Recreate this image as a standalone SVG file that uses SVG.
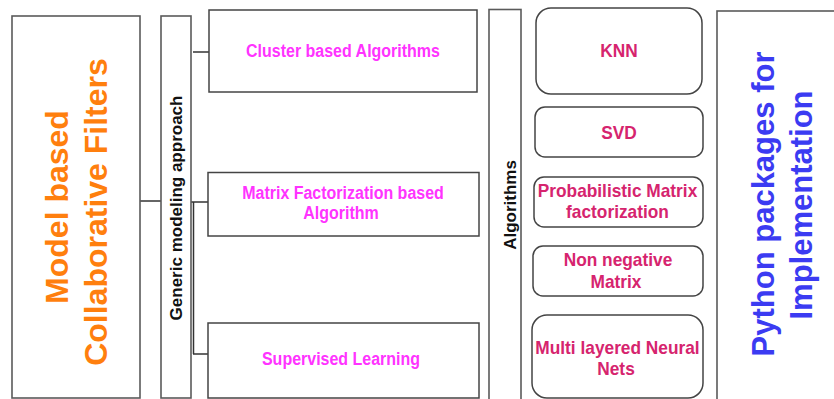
<svg xmlns="http://www.w3.org/2000/svg" width="834" height="399" viewBox="0 0 834 399">
<style>
  .box { fill: #ffffff; stroke: #5a5a5a; stroke-width: 1.6; }
  .rbox { fill: #ffffff; stroke: #444444; stroke-width: 1.5; }
  .conn { stroke: #333333; stroke-width: 1.5; fill: none; }
  text { font-family: "Liberation Sans", Arial, sans-serif; font-weight: bold; }
  .mag { fill: #ff33ff; font-size: 16px; text-anchor: middle; }
  .crim { fill: #d6246e; font-size: 17.3px; text-anchor: middle; }
  .vert { fill: #111111; font-size: 17px; text-anchor: middle; }
  .orange { fill: #ff7f0e; font-size: 32px; text-anchor: middle; }
  .blue { fill: #3b3bf2; font-size: 31px; text-anchor: middle; }
</style>
<rect width="834" height="399" fill="#ffffff"/>

<g id="connectors">
  <line class="conn" x1="140" y1="201" x2="161" y2="201"/>
  <line class="conn" x1="193" y1="52" x2="209" y2="52"/>
  <line class="conn" x1="191" y1="202" x2="208" y2="202"/>
  <line class="conn" x1="193.5" y1="202" x2="193.5" y2="354"/>
  <line class="conn" x1="193" y1="354" x2="208" y2="354"/>
</g>

<g id="model-based">
  <rect class="box" x="12" y="16" width="128" height="382"/>
  <text class="orange" transform="translate(68,207) rotate(-90)">Model based</text>
  <text class="orange" transform="translate(107,212) rotate(-90)">Collaborative Filters</text>
</g>

<g id="generic">
  <rect class="box" x="161" y="16" width="30" height="382"/>
  <text class="vert" transform="translate(182,208) rotate(-90)">Generic modeling approach</text>
</g>

<g id="cluster">
  <rect class="rbox" x="209" y="10" width="268" height="82"/>
  <text class="mag" transform="translate(343,57) scale(1,1.12)">Cluster based Algorithms</text>
</g>

<g id="matrix-factorization">
  <rect class="rbox" x="208" y="172.5" width="271" height="63.5"/>
  <text class="mag" transform="translate(343,199) scale(1,1.12)">Matrix Factorization based</text>
  <text class="mag" transform="translate(341,219) scale(1,1.12)">Algorithm</text>
</g>

<g id="supervised">
  <rect class="rbox" x="208" y="323" width="271" height="75"/>
  <text class="mag" transform="translate(341,365) scale(1,1.12)">Supervised Learning</text>
</g>

<g id="algorithms">
  <rect class="box" x="489" y="9.5" width="32" height="392"/>
  <text class="vert" transform="translate(516,205) rotate(-90)">Algorithms</text>
</g>

<g id="knn">
  <rect class="rbox" x="536" y="8" width="166" height="86" rx="15"/>
  <text class="crim" transform="translate(619,57) scale(1,1.08)">KNN</text>
</g>

<g id="svd">
  <rect class="rbox" x="535" y="107" width="168" height="50" rx="10"/>
  <text class="crim" transform="translate(619,139) scale(1,1.08)">SVD</text>
</g>

<g id="pmf">
  <rect class="rbox" x="534" y="177" width="169" height="50" rx="10"/>
  <text class="crim" transform="translate(617.5,197) scale(1,1.08)">Probabilistic Matrix</text>
  <text class="crim" transform="translate(617.5,218) scale(1,1.08)">factorization</text>
</g>

<g id="nmf">
  <rect class="rbox" x="533" y="246" width="170" height="50" rx="10"/>
  <text class="crim" transform="translate(618,266) scale(1,1.08)">Non negative</text>
  <text class="crim" transform="translate(616,288) scale(1,1.08)">Matrix</text>
</g>

<g id="mlnn">
  <rect class="rbox" x="532" y="315" width="171" height="83" rx="15"/>
  <text class="crim" transform="translate(617.5,354) scale(1,1.08)">Multi layered Neural</text>
  <text class="crim" transform="translate(616,375) scale(1,1.08)">Nets</text>
</g>

<g id="python">
  <rect class="box" x="717" y="11" width="130" height="395"/>
  <text class="blue" transform="translate(774,204) rotate(-90)">Python packages for</text>
  <text class="blue" transform="translate(812,205) rotate(-90)">Implementation</text>
</g>
</svg>
